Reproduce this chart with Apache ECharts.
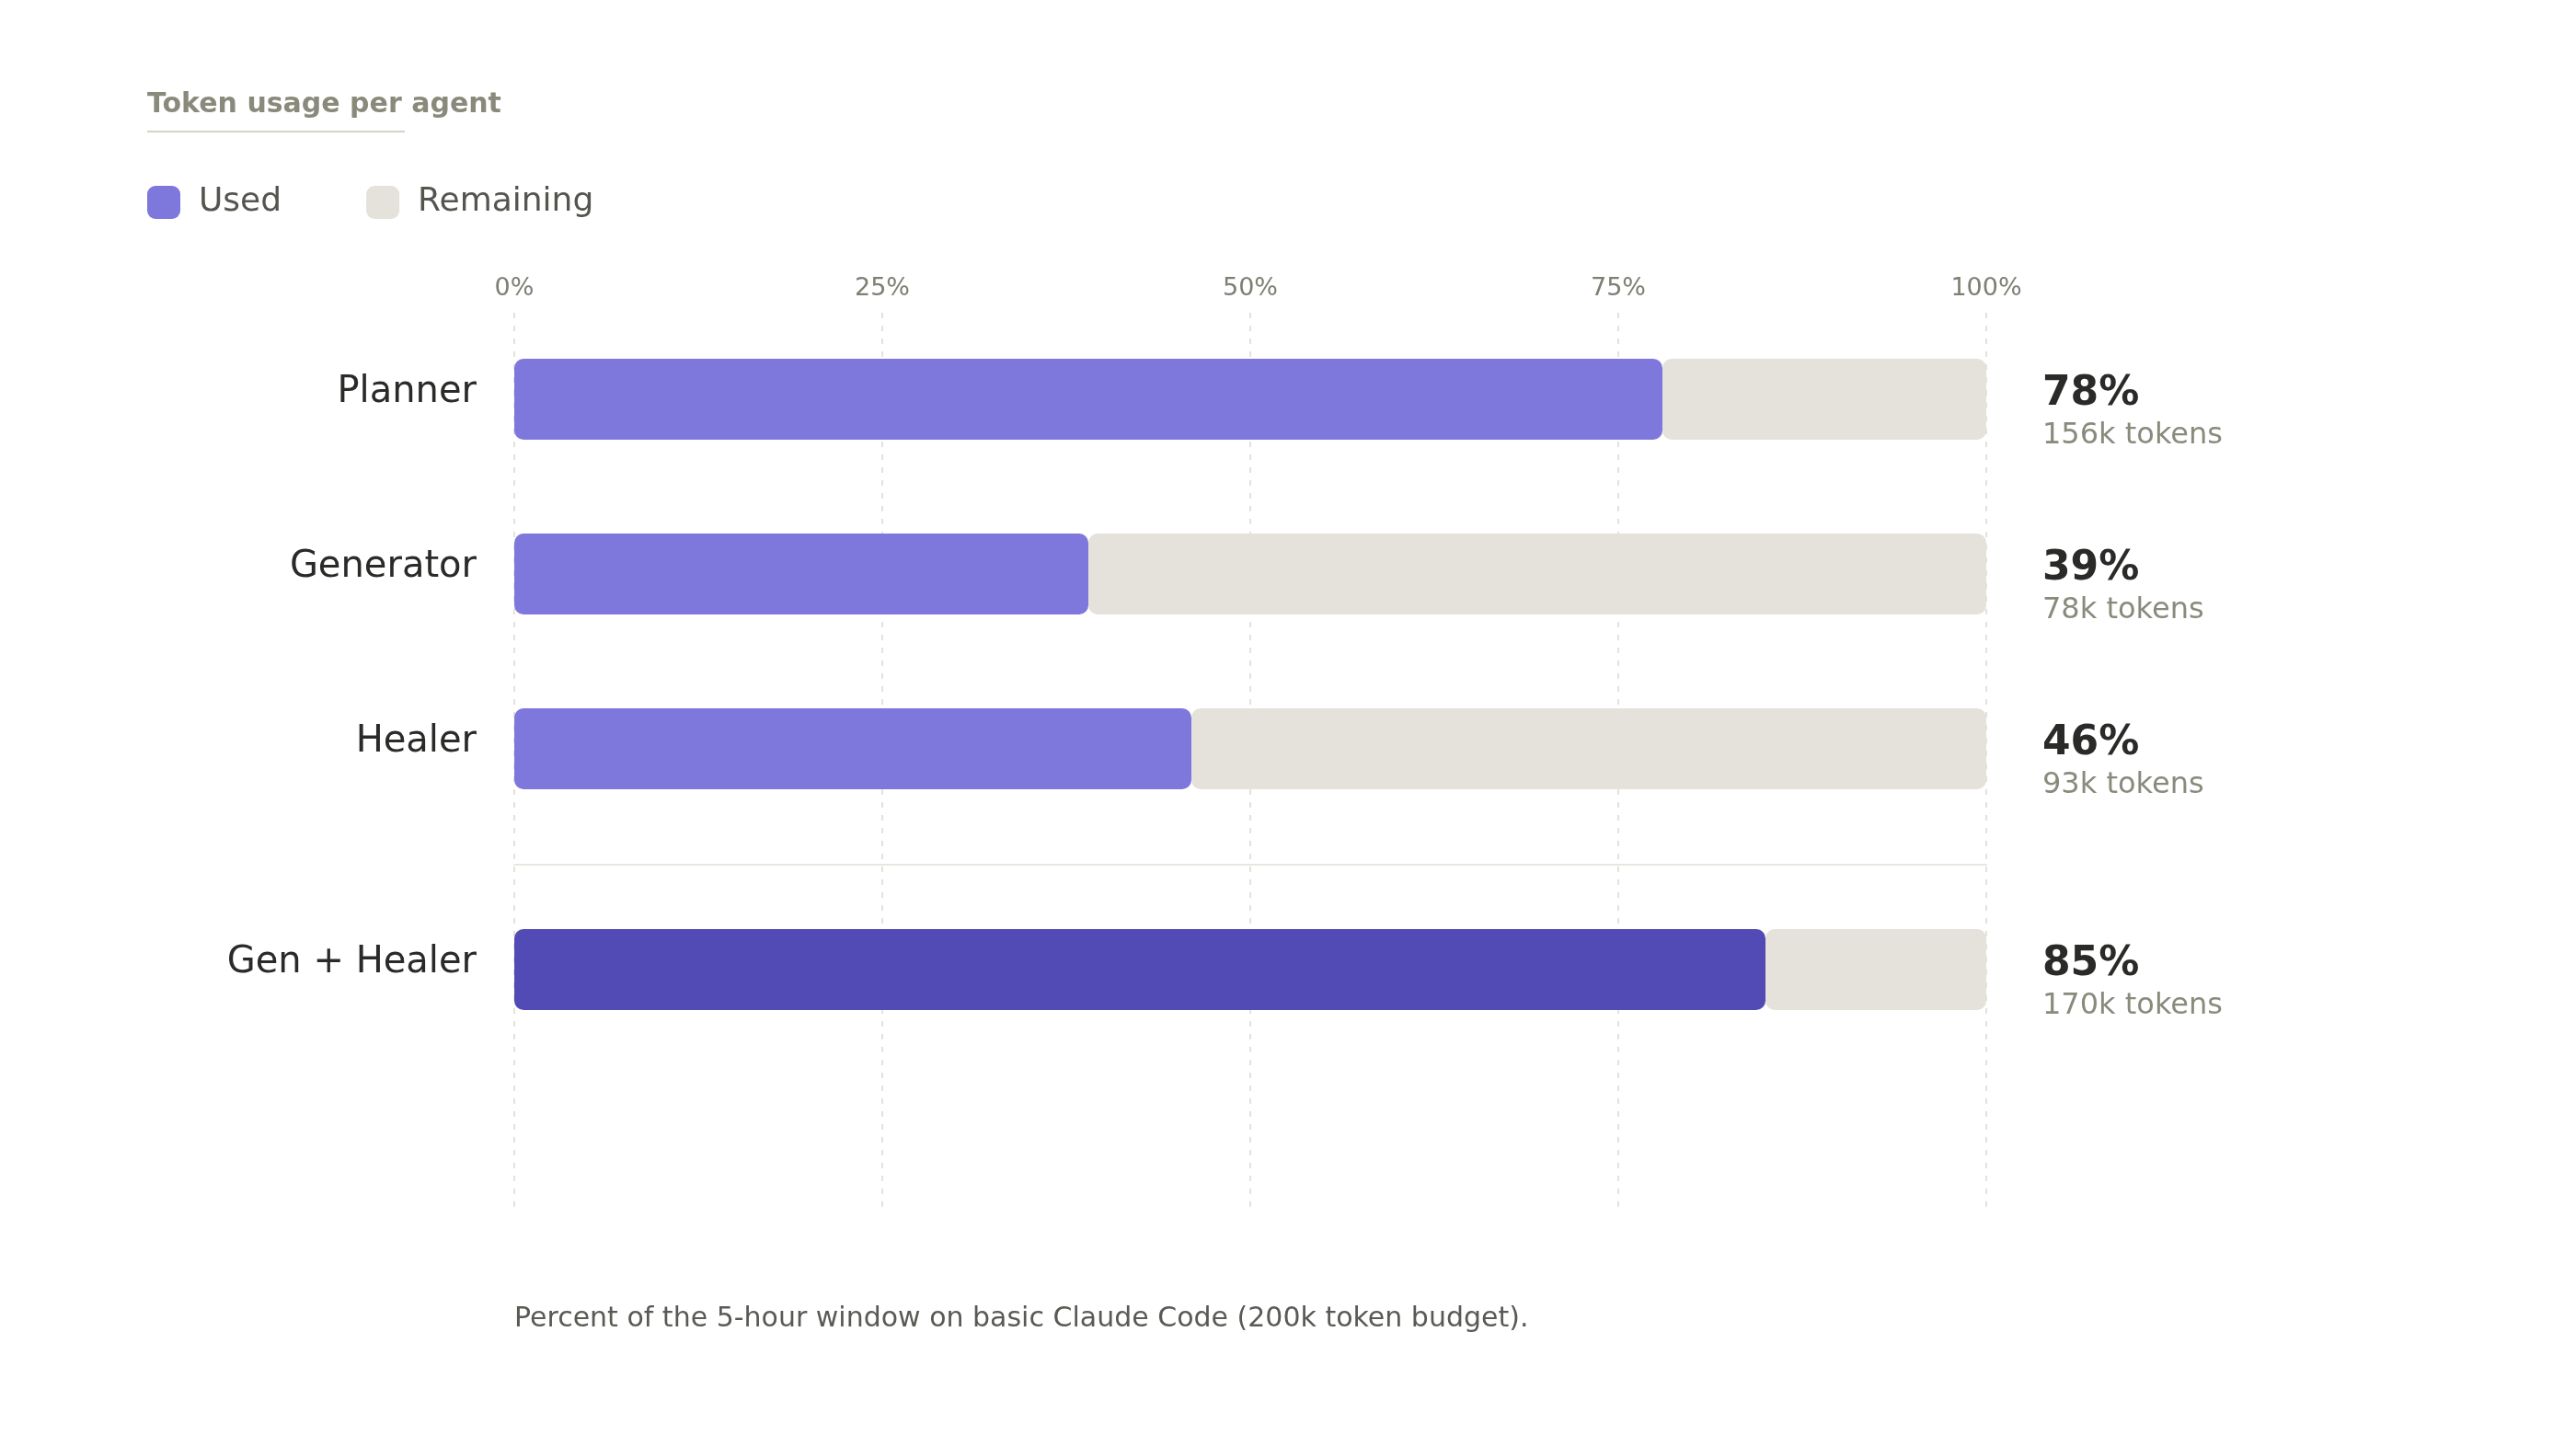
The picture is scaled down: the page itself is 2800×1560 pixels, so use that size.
<!DOCTYPE html>
<html>
<head>
<meta charset="utf-8">
<script src="https://cdn.jsdelivr.net/npm/echarts@6/dist/echarts.min.js"></script>
<style>
  html, body { margin: 0; padding: 0; background: #ffffff; }
  #chart { width: 2800px; height: 1560px; }
</style>
</head>
<body>
<div id="chart"></div>
<script>
// ---- Data ----
const agents = ['Planner', 'Generator', 'Healer'];
const usedPct = [78, 39, 46];
const remainingPct = [22, 61, 54];
const tokensK = [156, 78, 93];

const combined = ['Gen + Healer'];
const combinedUsedPct = [85];
const combinedRemainingPct = [15];
const combinedTokensK = [170];

const axisTicks = { min: 0, max: 100, interval: 25 };

const titleText = 'Token usage per agent';
const footnote = 'Percent of the 5-hour window on basic Claude Code (200k token budget).';

// ---- Styles ----
const FONT = 'DejaVu Sans';
const C_USED = '#7f78dc';
const C_COMBINED = '#534bb5';
const C_REM = '#e4e2da';
const C_GRID = '#e4e2da';

const chart = echarts.init(document.getElementById('chart'), null, { renderer: 'canvas' });

const catLabel = {
  fontFamily: FONT, fontSize: 40, color: '#2a2a28', margin: 41,
  verticalAlign: 'bottom', lineHeight: 14
};

function endLabel(pcts, toks) {
  return {
    show: true,
    position: 'right',
    distance: 61,
    offset: [0, 17],
    formatter: p => `{a|${pcts[p.dataIndex]}%}\n{b|${toks[p.dataIndex]}k tokens}`,
    rich: {
      a: { fontFamily: FONT, fontSize: 44, fontWeight: 'bold', color: '#2a2a28', lineHeight: 46 },
      b: { fontFamily: FONT, fontSize: 32, color: '#8a8a7c', lineHeight: 44 }
    }
  };
}

const option = {
  animation: false,
  backgroundColor: '#ffffff',
  textStyle: { fontFamily: FONT },
  title: [
    {
      text: titleText, left: 160, top: 99, padding: 0,
      textStyle: { fontFamily: FONT, fontSize: 30, fontWeight: 'bold', color: '#8a8a7c', lineHeight: 30 }
    },
    {
      text: footnote, left: 559, top: 1419, padding: 0,
      textStyle: { fontFamily: FONT, fontSize: 30, fontWeight: 'normal', color: '#5a5a55', lineHeight: 30 }
    }
  ],
  graphic: [
    { type: 'line', shape: { x1: 160, y1: 143, x2: 440, y2: 143 }, style: { stroke: '#d6d2c6', lineWidth: 2 }, silent: true }
  ],
  legend: {
    data: ['Used', 'Remaining'],
    left: 160, top: 202, padding: 0,
    itemWidth: 36, itemHeight: 36, itemGap: 92,
    icon: 'roundRect',
    selectedMode: false,
    textStyle: { fontFamily: FONT, fontSize: 36, color: '#555550', padding: [0, 0, 0, 15] }
  },
  grid: [
    { left: 559, width: 1600, top: 340, height: 972 },
    { left: 559, width: 1600, top: 339, height: 570 },
    { left: 559, width: 1600, top: 959, height: 190 }
  ],
  xAxis: [
    {
      gridIndex: 0, type: 'value', position: 'top',
      min: axisTicks.min, max: axisTicks.max, interval: axisTicks.interval,
      axisLine: { show: false }, axisTick: { show: false },
      axisLabel: { formatter: '{value}%', fontFamily: FONT, fontSize: 27, color: '#7c7f72', margin: 13 },
      splitLine: { show: true, lineStyle: { color: C_GRID, width: 2, type: [6, 8] } }
    },
    {
      gridIndex: 1, type: 'value', min: axisTicks.min, max: axisTicks.max, show: false,
      splitLine: { show: false }
    },
    {
      gridIndex: 2, type: 'value', min: axisTicks.min, max: axisTicks.max, position: 'top', offset: 19,
      axisLine: { show: true, lineStyle: { color: '#e8e6e0', width: 2 } },
      axisTick: { show: false }, axisLabel: { show: false }, splitLine: { show: false }
    }
  ],
  yAxis: [
    { gridIndex: 0, type: 'value', min: 0, max: 1, show: false, splitLine: { show: false } },
    {
      gridIndex: 1, type: 'category', inverse: true, data: agents,
      axisLine: { show: false }, axisTick: { show: false }, splitLine: { show: false },
      axisLabel: catLabel
    },
    {
      gridIndex: 2, type: 'category', inverse: true, data: combined,
      axisLine: { show: false }, axisTick: { show: false }, splitLine: { show: false },
      axisLabel: catLabel
    }
  ],
  series: [
    {
      name: 'Used', type: 'bar', xAxisIndex: 1, yAxisIndex: 1, stack: 'top',
      data: usedPct, barWidth: 88,
      itemStyle: { color: C_USED, borderRadius: 10 },
      emphasis: { disabled: true }, silent: true
    },
    {
      name: 'Remaining', type: 'bar', xAxisIndex: 1, yAxisIndex: 1, stack: 'top',
      data: remainingPct, barWidth: 88,
      itemStyle: { color: C_REM, borderRadius: 10 },
      label: endLabel(usedPct, tokensK),
      emphasis: { disabled: true }, silent: true
    },
    {
      name: 'Used', type: 'bar', xAxisIndex: 2, yAxisIndex: 2, stack: 'bottom',
      data: combinedUsedPct, barWidth: 88,
      itemStyle: { color: C_COMBINED, borderRadius: 10 },
      emphasis: { disabled: true }, silent: true
    },
    {
      name: 'Remaining', type: 'bar', xAxisIndex: 2, yAxisIndex: 2, stack: 'bottom',
      data: combinedRemainingPct, barWidth: 88,
      itemStyle: { color: C_REM, borderRadius: 10 },
      label: endLabel(combinedUsedPct, combinedTokensK),
      emphasis: { disabled: true }, silent: true
    }
  ]
};

chart.setOption(option);
</script>
</body>
</html>
